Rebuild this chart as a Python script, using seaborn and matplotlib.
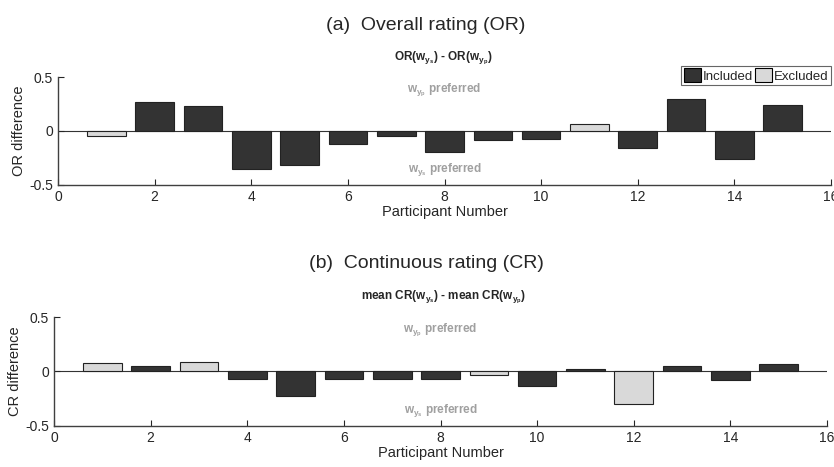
import pandas as pd
import matplotlib
matplotlib.use("Agg")
import matplotlib.pyplot as plt
import seaborn as sns

# data
participants = list(range(1, 16))
or_diff = [-0.05, 0.267, 0.236, -0.356, -0.313, -0.116, -0.048, -0.193,
           -0.082, -0.072, 0.063, -0.159, 0.30, -0.261, 0.245]
or_status = ["Excluded", "Included", "Included", "Included", "Included",
             "Included", "Included", "Included", "Included", "Included",
             "Excluded", "Included", "Included", "Included", "Included"]
cr_diff = [0.077, 0.049, 0.086, -0.068, -0.225, -0.065, -0.07, -0.065,
           -0.028, -0.135, 0.024, -0.30, 0.049, -0.08, 0.067]
cr_status = ["Excluded", "Included", "Excluded", "Included", "Included",
             "Included", "Included", "Included", "Excluded", "Included",
             "Included", "Excluded", "Included", "Included", "Included"]
groups = ["Included", "Excluded"]
colors = {"Included": "#333333", "Excluded": "#d9d9d9"}

sns.set_style("ticks")
plt.rcParams["font.family"] = ["Liberation Sans", "DejaVu Sans"]
plt.rcParams["mathtext.default"] = "regular"

df_or = pd.DataFrame({"participant": participants, "diff": or_diff, "status": or_status})
df_cr = pd.DataFrame({"participant": participants, "diff": cr_diff, "status": cr_status})

fig = plt.figure(figsize=(8.34, 4.67), dpi=100)
ax1 = fig.add_axes([0.0695, 0.604, 0.927, 0.231])
ax2 = fig.add_axes([0.0647, 0.088, 0.927, 0.233])

panels = [
    (ax1, df_or, "OR difference", "(a)  Overall rating (OR)",
     r"OR(w$_{y_s}$) - OR(w$_{y_p}$)", 0.946, 0.875),
    (ax2, df_cr, "CR difference", "(b)  Continuous rating (CR)",
     r"mean CR(w$_{y_s}$) - mean CR(w$_{y_p}$)", 0.435, 0.362),
]

for ax, df, ylab, title, sub, ty, sy in panels:
    ax.axhline(0, color="#333333", lw=0.8, zorder=0)
    sns.barplot(data=df, x="participant", y="diff", hue="status",
                hue_order=groups, palette=colors, native_scale=True,
                dodge=False, width=0.8, edgecolor="#222222", linewidth=0.8,
                errorbar=None, ax=ax, legend=(ax is ax1))
    ax.set_xlim(0, 16)
    ax.set_ylim(-0.5, 0.5)
    ax.set_xticks(range(0, 17, 2))
    ax.set_yticks([-0.5, 0, 0.5])
    ax.set_yticklabels(["-0.5", "0", "0.5"])
    ax.tick_params(direction="in", length=4, labelsize=10, colors="#262626")
    ax.set_xlabel("Participant Number", fontsize=10.5, labelpad=1)
    ax.set_ylabel(ylab, fontsize=10.5, labelpad=2)
    for s in ["left", "bottom"]:
        ax.spines[s].set_color("#404040")
        ax.spines[s].set_linewidth(1.0)
    sns.despine(ax=ax)
    ax.text(8, 0.38, r"w$_{y_p}$ preferred", color="#a0a0a0", fontsize=8.5,
            fontweight="bold", ha="center", va="center")
    ax.text(8, -0.36, r"w$_{y_s}$ preferred", color="#a0a0a0", fontsize=8.5,
            fontweight="bold", ha="center", va="center")
    fig.text(0.511, ty, title, fontsize=14, ha="center", va="center")
    fig.text(0.532, sy, sub, fontsize=8.5, fontweight="bold", ha="center", va="center")

leg = ax1.legend(loc="upper right", bbox_to_anchor=(1.0, 1.105), ncol=2,
                 fontsize=9.5, frameon=True, fancybox=False, edgecolor="#404040",
                 handlelength=1.3, handleheight=1.2, handletextpad=0.1,
                 columnspacing=0.2, borderpad=0.2, borderaxespad=0)
leg.get_frame().set_linewidth(0.8)
for h in leg.legend_handles:
    h.set_edgecolor("black")

fig.savefig("out.png", dpi=100)
